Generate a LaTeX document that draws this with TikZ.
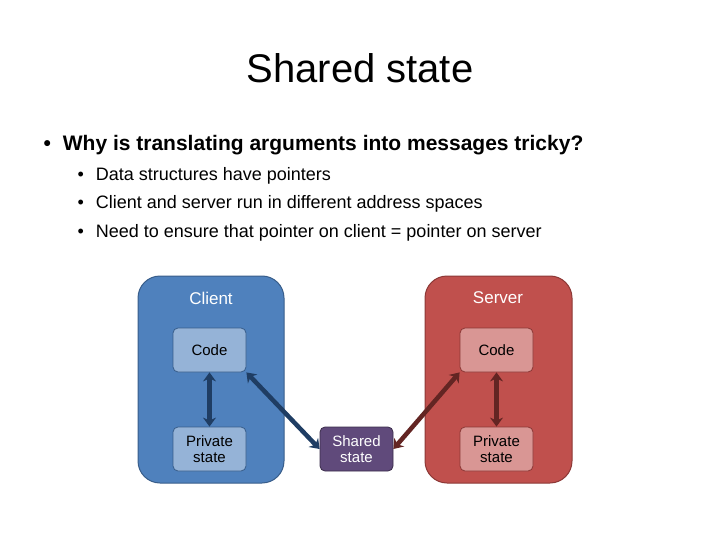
\documentclass[tikz,border=0pt]{standalone}
\usepackage{fontspec}
\setmainfont{Liberation Sans}
\usetikzlibrary{arrows.meta}
\definecolor{cblue}{HTML}{4F81BD}
\definecolor{cbluel}{HTML}{95B3D7}
\definecolor{cblued}{HTML}{385D8A}
\definecolor{cred}{HTML}{C0504D}
\definecolor{credl}{HTML}{D99694}
\definecolor{credd}{HTML}{8C3836}
\definecolor{cpur}{HTML}{604A7B}
\definecolor{arrb}{HTML}{1F3D63}
\definecolor{arrr}{HTML}{632523}
\begin{document}
\begin{tikzpicture}[x=1pt,y=-1pt,
 small/.style={draw=#1, line width=0.8pt, rounded corners=5pt, minimum width=73pt, minimum height=44pt, inner sep=1pt, align=center, font=\fontsize{15}{16}\selectfont},
 dbl/.style={{Stealth[length=9pt,width=13pt]}-{Stealth[length=9pt,width=13pt]}, line width=4.5pt, draw=#1}]
\useasboundingbox (0,0) rectangle (720,540);
\node[font=\fontsize{40}{44}\selectfont] (title) at (360,68) {Shared state};
\node[anchor=west,font=\fontsize{21}{24}\selectfont\bfseries] (b1) at (40,145) {•\hspace{12pt}Why is translating arguments into messages tricky?};
\node[anchor=west,font=\fontsize{18}{21}\selectfont] (b2) at (74,176) {•\hspace{12pt}Data structures have pointers};
\node[anchor=west,font=\fontsize{18}{21}\selectfont] (b3) at (74,204) {•\hspace{12pt}Client and server run in different address spaces};
\node[anchor=west,font=\fontsize{18}{21}\selectfont] (b4) at (74,233) {•\hspace{12pt}Need to ensure that pointer on client = pointer on server};
\fill[cblue,draw=cblued,line width=1pt,rounded corners=22pt] (138,276) rectangle (284,483);
\fill[cred,draw=credd,line width=1pt,rounded corners=22pt] (425,276) rectangle (572,483);
\node[text=white,font=\fontsize{17}{20}\selectfont] (cl) at (211,298) {Client};
\node[text=white,font=\fontsize{17}{20}\selectfont] (sv) at (498,298) {Server};
\node[small=cblued, fill=cbluel] (cc) at (209.5,350) {Code};
\node[small=cblued, fill=cbluel] (cp) at (209.5,449) {Private\\state};
\node[small=cpur!60!black, fill=cpur, text=white] (sh) at (356.5,449) {Shared\\state};
\node[small=credd, fill=credl] (sc) at (496.5,350) {Code};
\node[small=credd, fill=credl] (sp) at (496.5,449) {Private\\state};
\draw[dbl=arrb] (cc.south) -- (cp.north);
\draw[dbl=arrb] (cc.south east) -- (sh.west);
\draw[dbl=arrr] (sc.south) -- (sp.north);
\draw[dbl=arrr] (sc.south west) -- (sh.east);
\end{tikzpicture}
\end{document}
